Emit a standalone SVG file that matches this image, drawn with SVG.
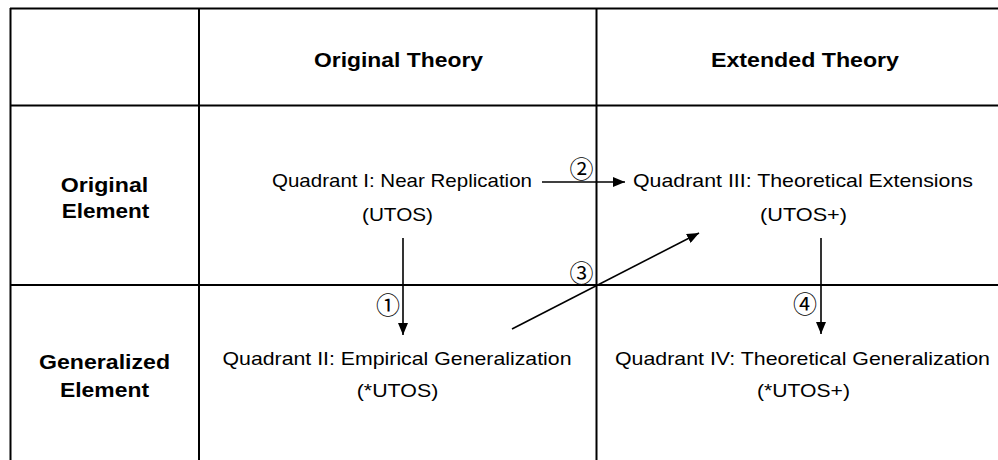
<svg xmlns="http://www.w3.org/2000/svg" width="998" height="460" viewBox="0 0 998 460">
  <style>
    .grid { stroke: #000; stroke-width: 2; fill: none; }
    .conn { stroke: #000; stroke-width: 1.6; fill: none; }
    .hdr { font-family: "Liberation Sans", Arial, sans-serif; font-weight: bold; font-size: 20.5px; fill: #000; text-anchor: middle; }
    .txt { font-family: "Liberation Sans", Arial, sans-serif; font-size: 19px; fill: #000; text-anchor: middle; }
    .num { font-family: "Noto Sans CJK JP", "DejaVu Sans", serif; font-size: 24px; fill: #000; text-anchor: middle; dominant-baseline: central; }
  </style>
  <defs>
    <marker id="arrow" viewBox="0 0 12 10" refX="12" refY="5" markerWidth="12" markerHeight="10" markerUnits="userSpaceOnUse" orient="auto">
      <path d="M0,0 L12,5 L0,10 Z" fill="#000"/>
    </marker>
  </defs>
  <rect width="998" height="460" fill="#fff"/>
  <g id="grid">
    <line class="grid" x1="10" y1="8.5" x2="998" y2="8.5"/>
    <line class="grid" x1="10.5" y1="8" x2="10.5" y2="460"/>
    <line class="grid" x1="10" y1="105.5" x2="998" y2="105.5"/>
    <line class="grid" x1="10" y1="285" x2="998" y2="285"/>
    <line class="grid" x1="199" y1="8" x2="199" y2="460"/>
    <line class="grid" x1="596.5" y1="8" x2="596.5" y2="460"/>
  </g>
  <g id="header-original-theory">
    <text class="hdr" x="398.5" y="67" textLength="169" lengthAdjust="spacingAndGlyphs">Original Theory</text>
  </g>
  <g id="header-extended-theory">
    <text class="hdr" x="805" y="67" textLength="188" lengthAdjust="spacingAndGlyphs">Extended Theory</text>
  </g>
  <g id="row-original-element">
    <text class="hdr" x="104.5" y="192" textLength="87.5" lengthAdjust="spacingAndGlyphs">Original</text>
    <text class="hdr" x="105.5" y="218" textLength="87.5" lengthAdjust="spacingAndGlyphs">Element</text>
  </g>
  <g id="row-generalized-element">
    <text class="hdr" x="104.5" y="369" textLength="131" lengthAdjust="spacingAndGlyphs">Generalized</text>
    <text class="hdr" x="104.5" y="397" textLength="89" lengthAdjust="spacingAndGlyphs">Element</text>
  </g>
  <g id="quadrant-1">
    <text class="txt" x="402" y="187" textLength="260" lengthAdjust="spacingAndGlyphs">Quadrant I: Near Replication</text>
    <text class="txt" x="397.5" y="221" textLength="71" lengthAdjust="spacingAndGlyphs">(UTOS)</text>
  </g>
  <g id="quadrant-3">
    <text class="txt" x="803" y="187" textLength="340" lengthAdjust="spacingAndGlyphs">Quadrant III: Theoretical Extensions</text>
    <text class="txt" x="803.5" y="221" textLength="87" lengthAdjust="spacingAndGlyphs">(UTOS+)</text>
  </g>
  <g id="quadrant-2">
    <text class="txt" x="397" y="365" textLength="349" lengthAdjust="spacingAndGlyphs">Quadrant II: Empirical Generalization</text>
    <text class="txt" x="397.5" y="397" textLength="81.5" lengthAdjust="spacingAndGlyphs">(*UTOS)</text>
  </g>
  <g id="quadrant-4">
    <text class="txt" x="802.5" y="365" textLength="375" lengthAdjust="spacingAndGlyphs">Quadrant IV: Theoretical Generalization</text>
    <text class="txt" x="803.5" y="397" textLength="93" lengthAdjust="spacingAndGlyphs">(*UTOS+)</text>
  </g>
  <g id="connectors">
    <line class="conn" x1="403" y1="238" x2="403" y2="335" marker-end="url(#arrow)"/>
    <line class="conn" x1="542" y1="182" x2="625" y2="182" marker-end="url(#arrow)"/>
    <line class="conn" x1="512" y1="329" x2="699" y2="233" marker-end="url(#arrow)"/>
    <line class="conn" x1="821" y1="238" x2="821" y2="334" marker-end="url(#arrow)"/>
    <text class="num" x="388" y="303">①</text>
    <text class="num" x="581.5" y="167">②</text>
    <text class="num" x="581.5" y="271.5">③</text>
    <text class="num" x="805" y="302.5">④</text>
  </g>
</svg>
